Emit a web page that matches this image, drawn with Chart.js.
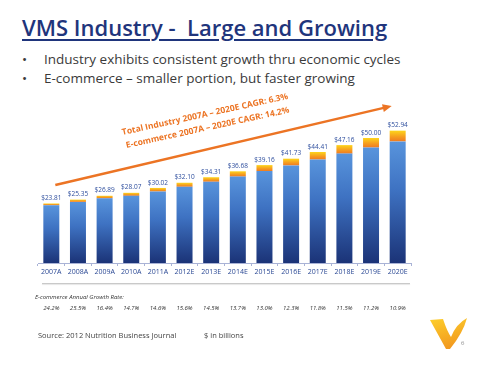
<!DOCTYPE html>
<html>
<head>
<meta charset="utf-8">
<script src="https://cdn.jsdelivr.net/npm/chart.js@4.4.1/dist/chart.umd.min.js"></script>
<style>
  html, body { margin: 0; padding: 0; background: #fff; }
  body { width: 480px; height: 370px; position: relative; overflow: hidden; font-family: "Open Sans", sans-serif; }
  #chart { position: absolute; left: 0; top: 0; }
  .abs { position: absolute; white-space: nowrap; }
  #title { left: 22px; top: 12px; font-size: 22px; font-weight: 600; color: #1f357c; text-decoration: underline; text-decoration-thickness: 2px; text-underline-offset: 3px; }
  .bullet { left: 22px; font-size: 13.5px; color: #3a3a3a; }
  .bullet span { position: absolute; left: 22px; }
  .cagr { font-size: 8.5px; font-weight: 700; color: #ec7424; transform-origin: 0 100%; transform: rotate(-12.3deg); }
  #sep { left: 42px; top: 283px; width: 368px; height: 1px; background: #c9c9c9; box-shadow: 0 1px 1px #e4e4e4; }
  #ecomLabel { left: 35px; top: 293px; font-size: 6px; font-style: italic; color: #333; }
  #source { left: 38px; top: 330px; font-size: 7.5px; color: #444; }
  #units { left: 204px; top: 330px; font-size: 7.5px; color: #444; }
  #page { left: 461px; top: 339px; font-size: 6px; color: #888; }
</style>
</head>
<body>
<div class="abs" id="title">VMS Industry -&nbsp; Large and Growing</div>
<div class="abs bullet" style="top:50px">•<span>Industry exhibits consistent growth thru economic cycles</span></div>
<div class="abs bullet" style="top:69px">•<span>E-commerce – smaller portion, but faster growing</span></div>
<canvas id="chart" width="480" height="370"></canvas>
<div class="abs cagr" style="left:123px; top:126px">Total Industry 2007A – 2020E CAGR: 6.3%</div>
<div class="abs cagr" style="left:127px; top:139px">E-commerce 2007A – 2020E CAGR: 14.2%</div>
<div class="abs" id="sep"></div>
<div class="abs" id="ecomLabel">E-commerce Annual Growth Rate:</div>
<div class="abs" id="source">Source: 2012 Nutrition Business Journal</div>
<div class="abs" id="units">$ in billions</div>
<svg class="abs" style="left:0; top:0" width="480" height="370">
  <defs>
    <linearGradient id="vg" x1="0" y1="0" x2="0.3" y2="1">
      <stop offset="0" stop-color="#fdcf2c"/>
      <stop offset="1" stop-color="#f29a1f"/>
    </linearGradient>
  </defs>
  <path d="M430,320 L443,319 Q447,331 451,337 Q456,324 467,318 Q463,333 450,349 L446,349 Z" fill="url(#vg)"/>
</svg>
<div class="abs" id="page">6</div>
<script>
const years = ['2007A', '2008A', '2009A', '2010A', '2011A', '2012E', '2013E', '2014E', '2015E', '2016E', '2017E', '2018E', '2019E', '2020E'];
const totalIndustry = [23.81, 25.35, 26.89, 28.07, 30.02, 32.10, 34.31, 36.68, 39.16, 41.73, 44.41, 47.16, 50.00, 52.94];
const ecommerce = [0.7, 0.9, 1.0, 1.2, 1.4, 1.6, 1.8, 2.1, 2.4, 2.7, 3.0, 3.4, 3.8, 4.3];
const ecomGrowth = ['24.2%', '25.5%', '16.4%', '14.7%', '14.6%', '15.6%', '14.5%', '13.7%', '13.0%', '12.3%', '11.8%', '11.5%', '11.2%', '10.9%'];

const otherChannels = totalIndustry.map((t, i) => +(t - ecommerce[i]).toFixed(2));

function blueFill(ctx) {
  const chart = ctx.chart;
  if (!chart.chartArea) return '#3d6fc0';
  const y = chart.scales.y;
  const top = y.getPixelForValue(otherChannels[ctx.dataIndex]);
  const bottom = y.getPixelForValue(0);
  const g = chart.ctx.createLinearGradient(0, top, 0, bottom);
  g.addColorStop(0, '#5894dc');
  g.addColorStop(0.4, '#3e72c2');
  g.addColorStop(1, '#1b3377');
  return g;
}

function orangeFill(ctx) {
  const chart = ctx.chart;
  if (!chart.chartArea) return '#f39a1f';
  const y = chart.scales.y;
  const top = y.getPixelForValue(totalIndustry[ctx.dataIndex]);
  const bottom = y.getPixelForValue(otherChannels[ctx.dataIndex]);
  const g = chart.ctx.createLinearGradient(0, top, 0, bottom);
  g.addColorStop(0, '#fdd51c');
  g.addColorStop(0.6, '#f59a1f');
  g.addColorStop(1, '#ee7a22');
  return g;
}

// labels above bars, growth arrow and e-commerce growth row
const extras = {
  id: 'extras',
  afterDatasetsDraw(chart) {
    const { ctx, scales: { x, y } } = chart;
    ctx.save();
    ctx.font = '6.5px "Open Sans"';
    ctx.fillStyle = '#2f4f9e';
    ctx.textAlign = 'center';
    ctx.textBaseline = 'bottom';
    totalIndustry.forEach((v, i) => {
      ctx.fillText('$' + v.toFixed(2), x.getPixelForValue(i), y.getPixelForValue(v) - 2);
    });

    // arrow
    const x0 = x.getPixelForValue(0) + 4, y0 = y.getPixelForValue(31.2);
    const x1 = x.getPixelForValue(13) - 6, y1 = y.getPixelForValue(62.8);
    const ang = Math.atan2(y1 - y0, x1 - x0);
    ctx.strokeStyle = '#ec7424';
    ctx.fillStyle = '#ec7424';
    ctx.lineWidth = 2.5;
    ctx.beginPath();
    ctx.moveTo(x0, y0);
    ctx.lineTo(x1 - 6 * Math.cos(ang), y1 - 6 * Math.sin(ang));
    ctx.stroke();
    ctx.beginPath();
    ctx.moveTo(x1, y1);
    ctx.lineTo(x1 - 9 * Math.cos(ang) + 4 * Math.sin(ang), y1 - 9 * Math.sin(ang) - 4 * Math.cos(ang));
    ctx.lineTo(x1 - 9 * Math.cos(ang) - 4 * Math.sin(ang), y1 - 9 * Math.sin(ang) + 4 * Math.cos(ang));
    ctx.closePath();
    ctx.fill();

    // growth rates
    ctx.font = 'italic 6px "Open Sans"';
    ctx.fillStyle = '#333';
    ctx.textBaseline = 'middle';
    ecomGrowth.forEach((g, i) => {
      ctx.fillText(g, x.getPixelForValue(i), 308);
    });
    ctx.restore();
  }
};

new Chart(document.getElementById('chart'), {
  type: 'bar',
  data: {
    labels: years,
    datasets: [
      { label: 'Other channels', data: otherChannels, backgroundColor: blueFill, categoryPercentage: 0.75, barPercentage: 0.8 },
      { label: 'E-commerce', data: ecommerce, backgroundColor: orangeFill, categoryPercentage: 0.75, barPercentage: 0.8 }
    ]
  },
  options: {
    responsive: false,
    animation: false,
    layout: { padding: { left: 38, right: 69, top: 103, bottom: 93 } },
    plugins: { legend: { display: false }, tooltip: { enabled: false } },
    scales: {
      x: {
        stacked: true,
        afterFit: (s) => { s.height = 14; },
        grid: { offset: true, drawOnChartArea: false, drawTicks: true, tickLength: 3, color: '#a9b3d6' },
        border: { color: '#a9b3d6' },
        ticks: { font: { family: 'Open Sans', size: 7 }, color: '#2a4894', padding: 2, maxRotation: 0, autoSkip: false }
      },
      y: { stacked: true, display: false, min: 0, max: 64 }
    }
  },
  plugins: [extras]
});
</script>
</body>
</html>
